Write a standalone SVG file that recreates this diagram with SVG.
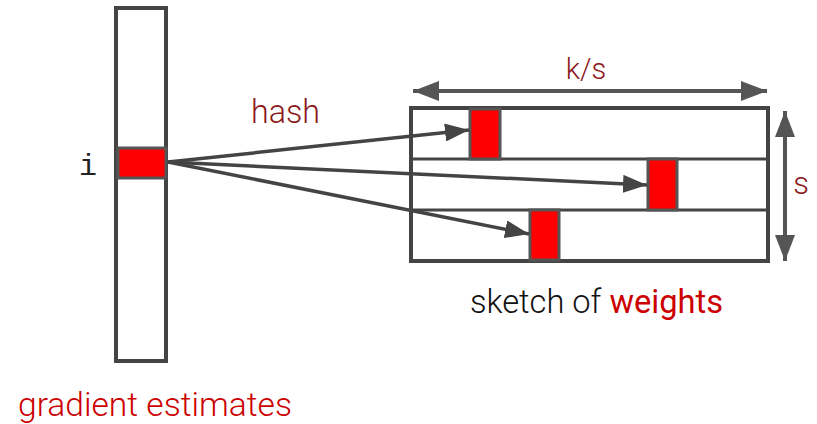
<svg xmlns="http://www.w3.org/2000/svg" width="817" height="424" viewBox="0 0 817 424">
  <style>
    .frame { fill: #ffffff; stroke: #444444; stroke-width: 4; }
    .cell { fill: #ff0000; stroke: #555555; stroke-width: 3; }
    .row { stroke: #444444; stroke-width: 3; }
    .link { stroke: #444444; stroke-width: 3.5; fill: none; }
    .dim { stroke: #555555; stroke-width: 4; fill: none; }
    .label { font-family: Roboto, "Liberation Sans", sans-serif; font-weight: 300; }
    .dark { fill: #8b1a1a; }
    .red { fill: #cc0000; }
  </style>
  <defs>
    <marker id="head" markerWidth="24" markerHeight="18" refX="24" refY="9" orient="auto" markerUnits="userSpaceOnUse">
      <path d="M0,0 L24,9 L0,18 Z" fill="#444444"/>
    </marker>
    <marker id="dimhead" markerWidth="26" markerHeight="20" refX="26" refY="10" orient="auto-start-reverse" markerUnits="userSpaceOnUse">
      <path d="M0,0 L26,10 L0,20 Z" fill="#555555"/>
    </marker>
  </defs>

  <!-- gradient vector -->
  <g id="gradient">
    <rect class="frame" x="116" y="8" width="50" height="353"/>
    <rect class="cell" x="118" y="148" width="48" height="30"/>
    <text x="79" y="175" font-family="'Liberation Mono', 'DejaVu Sans Mono', monospace" font-size="30" fill="#222222">i</text>
    <text class="label red" x="18" y="416" font-size="34" font-weight="400" textLength="274" lengthAdjust="spacingAndGlyphs">gradient estimates</text>
  </g>

  <!-- sketch table -->
  <g id="sketch">
    <rect class="frame" x="411" y="108" width="357" height="153"/>
    <line class="row" x1="411" y1="159" x2="768" y2="159"/>
    <line class="row" x1="411" y1="210" x2="768" y2="210"/>
    <rect class="cell" x="470" y="109" width="30" height="50"/>
    <rect class="cell" x="648" y="159" width="29" height="51"/>
    <rect class="cell" x="530" y="210" width="29" height="50"/>
    <text class="label" x="470" y="313" font-size="33" fill="#111111" textLength="253" lengthAdjust="spacingAndGlyphs">sketch of <tspan class="red" font-weight="400">weights</tspan></text>
  </g>

  <!-- dimensions -->
  <g id="dimensions">
    <line class="dim" x1="413" y1="91" x2="767" y2="91" marker-start="url(#dimhead)" marker-end="url(#dimhead)"/>
    <text class="label dark" x="586" y="79" font-size="29" text-anchor="middle">k/s</text>
    <line class="dim" x1="785" y1="111" x2="785" y2="261" marker-start="url(#dimhead)" marker-end="url(#dimhead)"/>
    <text class="label dark" x="801" y="194" font-size="31" text-anchor="middle">s</text>
  </g>

  <!-- hash connectors -->
  <g id="connectors">
    <line class="link" x1="168" y1="162" x2="469" y2="130" marker-end="url(#head)"/>
    <line class="link" x1="168" y1="162" x2="647" y2="185" marker-end="url(#head)"/>
    <line class="link" x1="168" y1="162" x2="529" y2="234" marker-end="url(#head)"/>
    <text class="label dark" x="251" y="123" font-size="34" textLength="69" lengthAdjust="spacingAndGlyphs">hash</text>
  </g>
</svg>
